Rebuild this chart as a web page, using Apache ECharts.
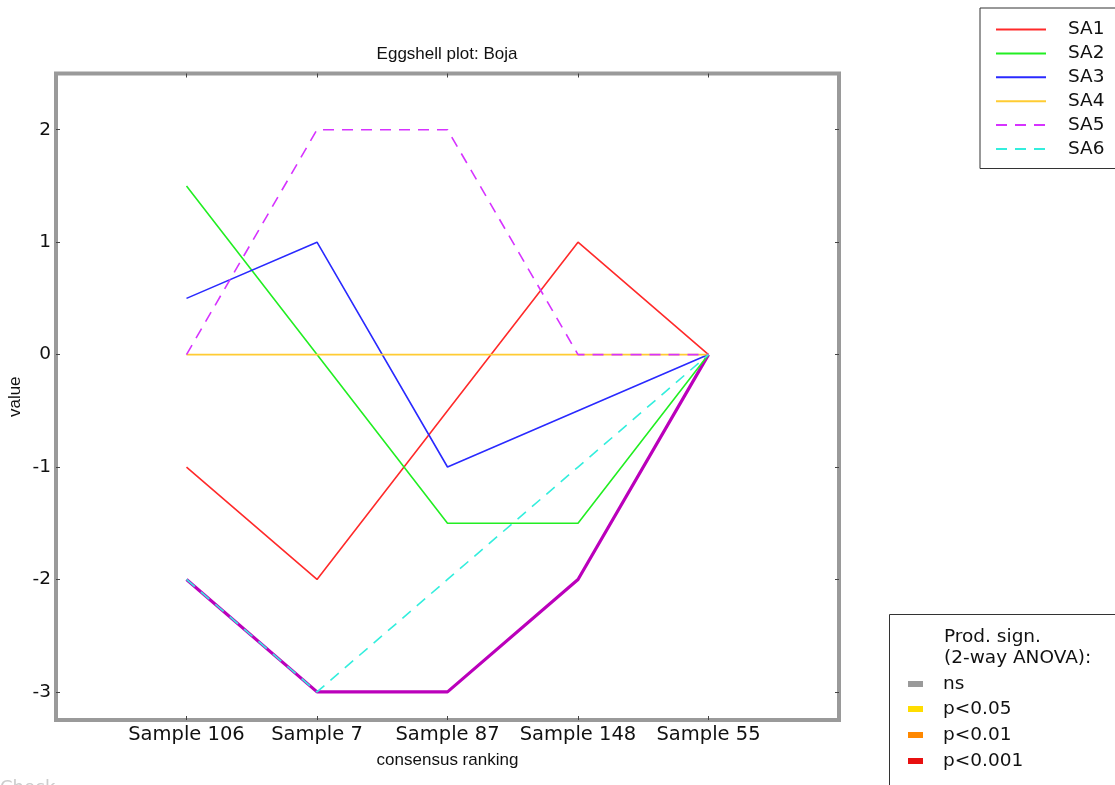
<!DOCTYPE html>
<html><head><meta charset="utf-8">
<script src="https://cdn.jsdelivr.net/npm/echarts@6/dist/echarts.min.js"></script>
<style>html,body{margin:0;padding:0;background:#fff}#c{width:1115px;height:785px}</style>
</head><body><div id="c"></div>
<script>
const categories = ['Sample 106','Sample 7','Sample 87','Sample 148','Sample 55'];
const seriesNames = ['SA1','SA2','SA3','SA4','SA5','SA6'];
const SA1 = [-1, -2, -0.5, 1, 0];
const SA2 = [1.5, 0, -1.5, -1.5, 0];
const SA3 = [0.5, 1, -1, -0.5, 0];
const SA4 = [0, 0, 0, 0, 0];
const SA5 = [0, 2, 2, 0, 0];
const SA6 = [-2, -3, -2, -1, 0];
const consensus = [-2, -3, -3, -2, 0];
const yTicks = [-3, -2, -1, 0, 1, 2];
const signLabels = ['ns', 'p<0.05', 'p<0.01', 'p<0.001'];
const signColors = ['#9a9a9a', '#ffdd00', '#ff8800', '#e81010'];
const signTitle = ['Prod. sign.', '(2-way ANOVA):'];

const seriesValues = [SA1, SA2, SA3, SA4, SA5, SA6];
const lineColors = ['#ff2a2a', '#22ee22', '#2a2aff', '#ffcc33', '#d633ff', '#33eedd'];
const lineTypes = ['solid', 'solid', 'solid', 'solid', [11, 8], [11, 8]];
const xIdx = categories.map((c, i) => i);

const chart = echarts.init(document.getElementById('c'), null, {renderer: 'canvas'});
const tickFont = {fontFamily: 'DejaVu Sans', fontSize: 18.5, color: '#111'};
const xTickFont = {fontFamily: 'DejaVu Sans', fontSize: 19.5, color: '#111'};
const nameFont = {fontFamily: 'Liberation Sans', fontSize: 17, color: '#111'};

function xAx(pos, labels) {
  return {
    type: 'value', position: pos, min: -1, max: 5,
    axisLine: {show: false, onZero: false}, splitLine: {show: false},
    axisTick: {show: true, inside: true, length: 4, customValues: xIdx, lineStyle: {color: '#444', width: 1}},
    axisLabel: labels ? Object.assign({show: true, margin: 5, customValues: xIdx, formatter: v => categories[Math.round(v)]}, xTickFont) : {show: false},
    name: labels ? 'consensus ranking' : '', nameLocation: 'middle', nameGap: 32, nameTextStyle: nameFont
  };
}
function yAx(pos, labels) {
  return {
    type: 'value', position: pos, min: -3.25, max: 2.5,
    axisLine: {show: false, onZero: false}, splitLine: {show: false},
    axisTick: {show: true, inside: true, length: 4, customValues: yTicks, lineStyle: {color: '#444', width: 1}},
    axisLabel: labels ? Object.assign({show: true, margin: 5, customValues: yTicks}, tickFont) : {show: false},
    name: labels ? 'value' : '', nameLocation: 'middle', nameGap: 32, nameRotate: 90, nameMoveOverlap: false, nameTextStyle: nameFont
  };
}

const series = [{
  name: 'consensus', type: 'line', xAxisIndex: 0, yAxisIndex: 0, symbol: 'none', silent: true, z: 2,
  data: consensus.map((v, i) => [i, v]),
  lineStyle: {color: '#bb00bb', width: 3.2}, itemStyle: {color: '#bb00bb'}
}];
seriesNames.forEach((n, k) => {
  series.push({
    name: n, type: 'line', xAxisIndex: 0, yAxisIndex: 0, symbol: 'none', z: 3,
    data: seriesValues[k].map((v, i) => [i, v]),
    lineStyle: {color: lineColors[k], width: 1.6, type: lineTypes[k]},
    itemStyle: {color: lineColors[k]}
  });
});

const graphics = [
  {type: 'rect', left: 889, top: 614, shape: {width: 300, height: 200}, style: {fill: '#fff', stroke: '#333', lineWidth: 1}, z: 10},
  {type: 'text', left: 944, top: 628, style: {text: signTitle[0], font: '18.5px "DejaVu Sans"', fill: '#111'}, z: 11},
  {type: 'text', left: 944, top: 649, style: {text: signTitle[1], font: '18.5px "DejaVu Sans"', fill: '#111'}, z: 11},
  {type: 'text', left: 0, top: 779, style: {text: 'Check', font: '18px "DejaVu Sans"', fill: '#cccccc'}, z: 11}
];
const signY = [684, 709, 735, 761];
signLabels.forEach((s, k) => {
  graphics.push({type: 'rect', left: 908, top: signY[k] - 3, shape: {width: 15, height: 6}, style: {fill: signColors[k]}, z: 11});
  graphics.push({type: 'text', left: 943, top: signY[k] - 9, style: {text: s, font: '18.5px "DejaVu Sans"', fill: '#111'}, z: 11});
});

chart.setOption({
  animation: false,
  backgroundColor: '#fff',
  title: {text: 'Eggshell plot: Boja', left: 442, top: 41, textAlign: 'center',
    textStyle: {fontFamily: 'Liberation Sans', fontSize: 17, fontWeight: 'normal', color: '#111'}},
  grid: {left: 56, top: 73.5, width: 783, height: 646.5, show: true, borderColor: '#9a9a9a', borderWidth: 4, backgroundColor: '#fff', outerBoundsMode: 'none', containLabel: false},
  xAxis: [xAx('bottom', true), xAx('top', false)],
  yAxis: [yAx('left', true), yAx('right', false)],
  legend: {
    data: seriesNames, orient: 'vertical', left: 980, top: 8,
    padding: [12, 60, 10, 15], itemWidth: 50, itemHeight: 16, itemGap: 4.9,
    backgroundColor: '#fff', borderColor: '#333', borderWidth: 1, borderRadius: 0,
    itemStyle: {opacity: 0},
    textStyle: {fontFamily: 'DejaVu Sans', fontSize: 18.5, color: '#111', padding: [0, 0, 0, 17]},
    selectedMode: false
  },
  graphic: graphics,
  series: series
});
</script>
</body></html>
